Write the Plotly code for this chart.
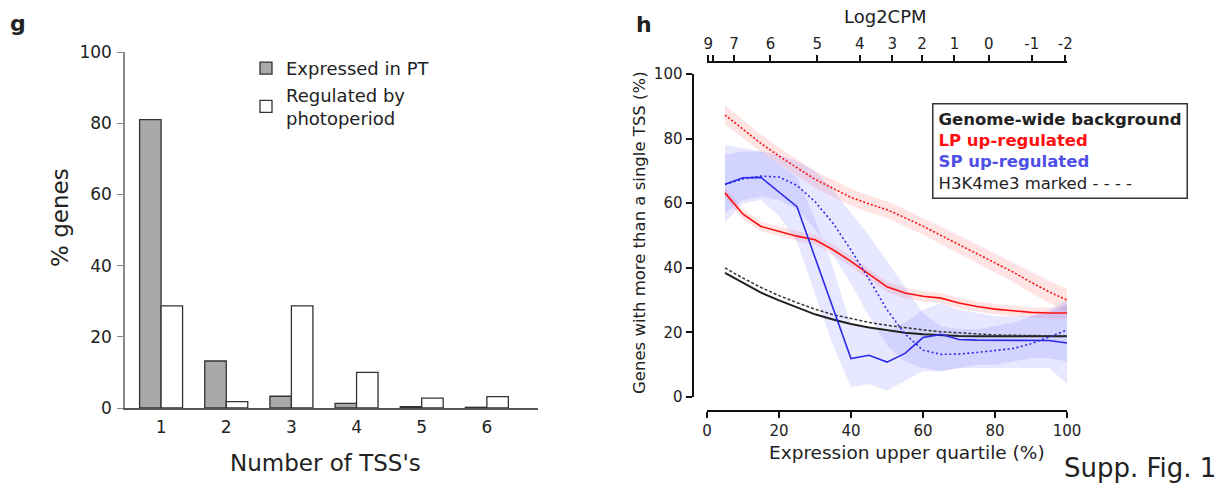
import plotly.graph_objects as go

W, H = 1227, 485

# ---------------- Panel g data ----------------
tss_categories = [1, 2, 3, 4, 5, 6]
expressed_in_pt = [81.0, 13.2, 3.3, 1.3, 0.4, 0.2]
regulated_by_photoperiod = [28.7, 1.8, 28.7, 10.0, 2.8, 3.2]

# ---------------- Panel h data ----------------
expr_pct = [5, 10, 15, 20, 25, 30, 35, 40, 45, 50, 55, 60, 65, 70, 75, 80, 85, 90, 95, 100]

genome_bg = [38.4, 35.3, 32.3, 29.9, 27.7, 25.6, 24.0, 22.6, 21.5, 20.6,
             19.9, 19.4, 19.1, 18.9, 18.8, 18.8, 18.8, 18.8, 18.8, 18.8]
genome_h3k4 = [40.0, 36.8, 33.9, 31.4, 29.2, 27.2, 25.5, 24.2, 23.1, 22.2,
               21.4, 20.8, 20.2, 19.8, 19.4, 19.2, 19.1, 19.0, 18.9, 18.9]

lp_up = [63.2, 56.6, 52.8, 51.2, 49.8, 48.7, 45.6, 42.0, 38.0, 34.1,
         32.2, 31.2, 30.6, 29.1, 28.0, 27.2, 26.7, 26.2, 26.0, 26.0]
lp_up_hi = [64.8, 58.2, 54.3, 52.7, 51.3, 50.2, 47.2, 43.6, 39.6, 35.7,
            33.8, 32.8, 32.2, 30.7, 29.6, 28.8, 28.3, 27.8, 27.7, 27.8]
lp_up_lo = [61.6, 55.0, 51.3, 49.7, 48.3, 47.2, 44.0, 40.4, 36.4, 32.5,
            30.6, 29.6, 29.0, 27.5, 26.4, 25.6, 25.1, 24.6, 24.3, 24.2]

lp_h3k4 = [87.3, 83.0, 78.5, 74.6, 71.0, 67.4, 64.6, 61.8, 59.8, 58.0,
           55.5, 52.9, 50.0, 47.2, 44.3, 41.5, 38.7, 35.5, 32.6, 30.0]
lp_h3k4_hi = [90.3, 85.8, 81.2, 77.2, 73.6, 70.0, 67.2, 64.4, 62.4, 60.6,
              58.1, 55.5, 52.7, 50.0, 47.2, 44.5, 41.8, 38.8, 36.0, 33.5]
lp_h3k4_lo = [84.3, 80.2, 75.8, 72.0, 68.4, 64.8, 62.0, 59.2, 57.2, 55.4,
              52.9, 50.3, 47.3, 44.4, 41.4, 38.5, 35.6, 32.2, 29.2, 26.5]

sp_up = [65.9, 67.9, 68.0, 63.5, 58.9, 43.2, 27.5, 11.9, 12.9, 10.8,
         13.5, 18.4, 19.4, 17.8, 17.6, 17.6, 17.6, 17.6, 17.5, 16.7]
sp_up_hi = [78, 77, 76, 72, 68, 55, 40, 22, 22, 20,
            23, 27, 29, 27, 26, 25, 25, 25, 26, 29]
sp_up_lo = [54, 60, 61, 56, 48, 32, 16, 3, 4, 2,
            5, 8, 8, 9, 9, 9, 9, 9, 9, 4]

sp_h3k4 = [65.8, 67.5, 68.4, 68.1, 65.5, 60.5, 53.8, 45.5, 36.5, 27.0,
           19.5, 14.5, 13.2, 13.3, 13.8, 14.3, 15.0, 16.5, 18.7, 20.7]
sp_h3k4_hi = [75, 76, 76, 75, 73, 70, 64, 57, 50, 42,
              34, 26, 22, 21, 21, 22, 23, 25, 27, 30]
sp_h3k4_lo = [57, 61, 62, 61, 58, 52, 44, 35, 25, 16,
              11, 9, 8, 9, 10, 10, 11, 12, 12, 11]

# top axis: Log2CPM labels and their positions on the expression-percentile scale
log2cpm_labels = ["9", "", "7", "6", "5", "4", "3", "2", "1", "0", "-1", "-2"]
log2cpm_pos = [0.6, 1.9, 7.6, 17.5, 30.2, 41.8, 50.6, 58.7, 67.5, 76.8, 88.5, 97.6]

FONT = "DejaVu Sans"
TXT = "#222222"
RED = "#ff1010"
BLUE = "#2a2ae8"


def px(x, y):
    return x / W, 1 - y / H


fig = go.Figure()

# ---------------- Panel g ----------------
fig.add_trace(go.Bar(x=tss_categories, y=expressed_in_pt, name="Expressed in PT",
                     marker=dict(color="#a9a9a9", line=dict(color="#333333", width=1.3)),
                     xaxis="x3", yaxis="y3", legend="legend"))
fig.add_trace(go.Bar(x=tss_categories, y=regulated_by_photoperiod,
                     name="Regulated by<br>photoperiod",
                     marker=dict(color="#ffffff", line=dict(color="#333333", width=1.3)),
                     xaxis="x3", yaxis="y3", legend="legend"))


# ---------------- Panel h ----------------
def band(hi, lo, color):
    fig.add_trace(go.Scatter(x=expr_pct, y=hi, mode="lines", line=dict(width=0),
                             showlegend=False, hoverinfo="skip"))
    fig.add_trace(go.Scatter(x=expr_pct, y=lo, mode="lines", line=dict(width=0),
                             fill="tonexty", fillcolor=color, showlegend=False,
                             hoverinfo="skip"))


band(lp_h3k4_hi, lp_h3k4_lo, "rgba(255,90,90,0.16)")
band(lp_up_hi, lp_up_lo, "rgba(255,90,90,0.16)")
band(sp_up_hi, sp_up_lo, "rgba(110,110,255,0.17)")
band(sp_h3k4_hi, sp_h3k4_lo, "rgba(110,110,255,0.17)")


def line(y, color, dash, width):
    fig.add_trace(go.Scatter(x=expr_pct, y=y, mode="lines",
                             line=dict(color=color, dash=dash, width=width),
                             showlegend=False))


line(genome_bg, "#222222", "solid", 2)
line(genome_h3k4, "#333333", "3px,2px", 1.5)
line(lp_h3k4, RED, "2px,2px", 1.6)
line(lp_up, RED, "solid", 1.6)
line(sp_h3k4, BLUE, "2px,2.5px", 1.6)
line(sp_up, BLUE, "solid", 1.6)

# dummy trace to activate the top axis
fig.add_trace(go.Scatter(x=[log2cpm_pos[0]], y=[None], xaxis="x2", yaxis="y",
                         showlegend=False, hoverinfo="skip"))

axis_font = dict(family=FONT, size=15, color=TXT)

fig.update_layout(
    width=W, height=H,
    margin=dict(l=0, r=0, t=0, b=0, pad=0, autoexpand=False),
    paper_bgcolor="white", plot_bgcolor="white",
    font=dict(family=FONT, color=TXT),
    barmode="group", bargap=0.34, bargroupgap=0,
    showlegend=True,
    legend=dict(x=246 / W, y=1 - 50 / H, xanchor="left", yanchor="top",
                traceorder="normal",
                font=dict(family=FONT, size=18, color=TXT),
                bgcolor="rgba(0,0,0,0)", tracegroupgap=4, itemclick=False),
    # panel h bottom axis
    xaxis=dict(domain=[707 / W, 1067 / W], range=[0, 100], anchor="free",
               position=1 - 410.5 / H, showgrid=False, zeroline=False,
               showline=True, linecolor="#111111", linewidth=2, automargin=False,
               ticks="outside", ticklen=6, tickwidth=2, tickcolor="#111111",
               tickvals=[0, 20, 40, 60, 80, 100], tickfont=axis_font),
    xaxis2=dict(domain=[708 / W, 1060 / W], range=[0.28, 98.06], anchor="free",
                position=1 - 62 / H, overlaying="x", side="top", showgrid=False,
                zeroline=False, showline=True, linecolor="#111111", linewidth=2,
                automargin=False,
                ticks="outside", ticklen=6, tickwidth=2, tickcolor="#111111",
                tickvals=log2cpm_pos, ticktext=log2cpm_labels, tickfont=axis_font),
    yaxis=dict(domain=[1 - 397 / H, 1 - 74 / H], range=[0, 100], anchor="free",
               position=692.5 / W, showgrid=False, zeroline=False,
               showline=True, linecolor="#111111", linewidth=2, automargin=False,
               ticks="outside", ticklen=6, tickwidth=2, tickcolor="#111111",
               tickvals=[0, 20, 40, 60, 80, 100], tickfont=axis_font),
    # panel g axes
    xaxis3=dict(domain=[125 / W, 538 / W], range=[0.446, 6.785], anchor="y3",
                showgrid=False, zeroline=False, showline=True, automargin=False,
                linecolor="#555555", linewidth=1.5, ticks="",
                tickvals=tss_categories, ticklabelstandoff=3,
                tickfont=dict(family=FONT, size=17, color=TXT)),
    yaxis3=dict(domain=[1 - 408 / H, 1 - 52 / H], range=[0, 100], anchor="x3",
                showgrid=False, zeroline=False, showline=True, automargin=False,
                linecolor="#888888", linewidth=1.5, ticks="outside", ticklen=6,
                tickcolor="#888888", tickvals=[0, 20, 40, 60, 80, 100],
                ticklabelstandoff=2,
                tickfont=dict(family=FONT, size=17, color=TXT)),
)


def ann(x, y, text, size, **kw):
    xp, yp = px(x, y)
    d = dict(x=xp, y=yp, xref="paper", yref="paper", text=text, showarrow=False,
             xanchor="center", yanchor="middle",
             font=dict(family=FONT, size=size, color=kw.pop("color", TXT)))
    d.update(kw)
    fig.add_annotation(**d)


ann(18, 23, "<b>g</b>", 22)
ann(644, 24, "<b>h</b>", 22)
ann(60, 218, "% genes", 23, textangle=-90)
ann(325, 463, "Number of TSS's", 23)
ann(639, 233, "Genes with more than a single TSS (%)", 16.5, textangle=-90)
ann(907, 452, "Expression upper quartile (%)", 18.5)
ann(885, 17, "Log2CPM", 18)
ann(1062, 468, "Supp. Fig. 1", 26, xanchor="left")

legend_text = ("<b>Genome-wide background</b><br>"
               "<b><span style='color:#ff1010'>LP up-regulated</span></b><br>"
               "<b><span style='color:#5050e6'>SP up-regulated</span></b><br>"
               "H3K4me3 marked - - - -")
ann(932, 103, legend_text, 16.5, xanchor="left", yanchor="top", align="left",
    bordercolor="#333333", borderwidth=1.5, borderpad=5, bgcolor="white")

fig.write_html("out.html", config={"displayModeBar": False},
               post_script="document.body.style.margin='0px';document.body.style.padding='0px';")
